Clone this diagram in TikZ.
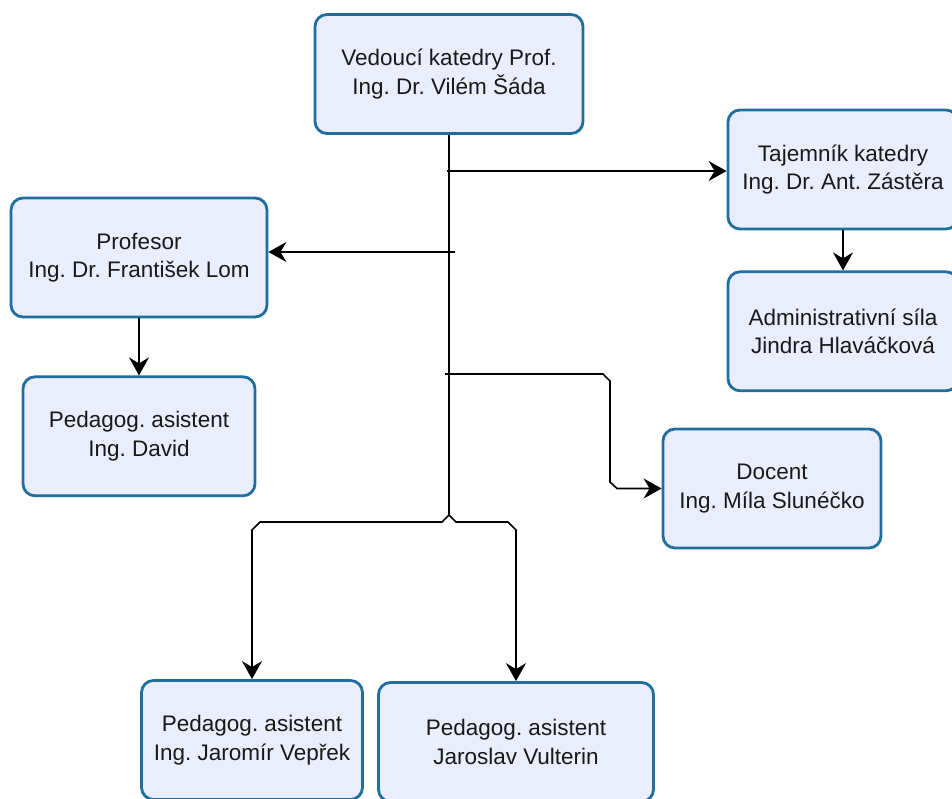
\documentclass[tikz,border=0pt]{standalone}
\usepackage{fontspec}
\setmainfont{Liberation Sans}
\usetikzlibrary{arrows.meta,positioning}
\definecolor{boxline}{HTML}{1F6E9E}
\definecolor{boxfill}{HTML}{EAEEFC}
\frenchspacing

\begin{document}
\begin{tikzpicture}[x=1pt,y=-1pt,
  person/.style={draw=boxline,fill=boxfill,line width=2.8pt,rounded corners=12pt,
    align=center,inner sep=0pt,minimum height=119pt,text=black!90,
    font=\fontsize{22.5}{28.5}\selectfont},
  link/.style={line width=1.6pt},
  arr/.style={link,-{Stealth[length=18pt,width=20pt,inset=6pt]}}]
  \useasboundingbox (0,0) rectangle (952,798);

  \node[person, minimum width=268pt] (vedouci)  at (449,74)    {Vedoucí katedry Prof.\\Ing. Dr. Vilém Šáda};
  \node[person, minimum width=230pt] (tajemnik) at (843,169.5) {Tajemník katedry\\Ing. Dr. Ant. Zástěra};
  \node[person, minimum width=230pt] (admin)    [below=40pt of tajemnik] {Administrativní síla\\Jindra Hlaváčková};
  \node[person, minimum width=256pt] (profesor) at (139,257.5) {Profesor\\Ing. Dr. František Lom};
  \node[person, minimum width=232pt] (david)    [below=57pt of profesor] {Pedagog. asistent\\Ing. David};
  \node[person, minimum width=218pt] (docent)   at (772,488.5) {Docent\\Ing. Míla Slunéčko};
  \node[person, minimum width=221pt] (veprek)   at (252,740)   {Pedagog. asistent\\Ing. Jaromír Vepřek};
  \node[person, minimum width=275pt] (vulterin) at (516,742)   {Pedagog. asistent\\Jaroslav Vulterin};

  \coordinate (tBranch) at (447,171);
  \coordinate (pBranch) at (455,252);
  \coordinate (dBranch) at (445,374);
  \coordinate (split)   at (449,515);

  \draw[link] (vedouci.south) -- (split);
  \draw[arr] (tBranch) -- (tBranch -| tajemnik.west);
  \draw[arr] (pBranch) -- (pBranch -| profesor.east);
  \draw[arr] (dBranch) -- (603,374) -- (610,381) -- (610,482) -- (617,488.5) -- (docent.west);
  \draw[arr] (split) -- ++(-7,7) -- (260,522) -- (252,530) -- (veprek.north);
  \draw[arr] (split) -- ++(7,7) -- (508,522) -- (516,530) -- (vulterin.north);
  \draw[arr] (tajemnik.south) -- (admin.north);
  \draw[arr] (profesor.south) -- (david.north);
\end{tikzpicture}
\end{document}
